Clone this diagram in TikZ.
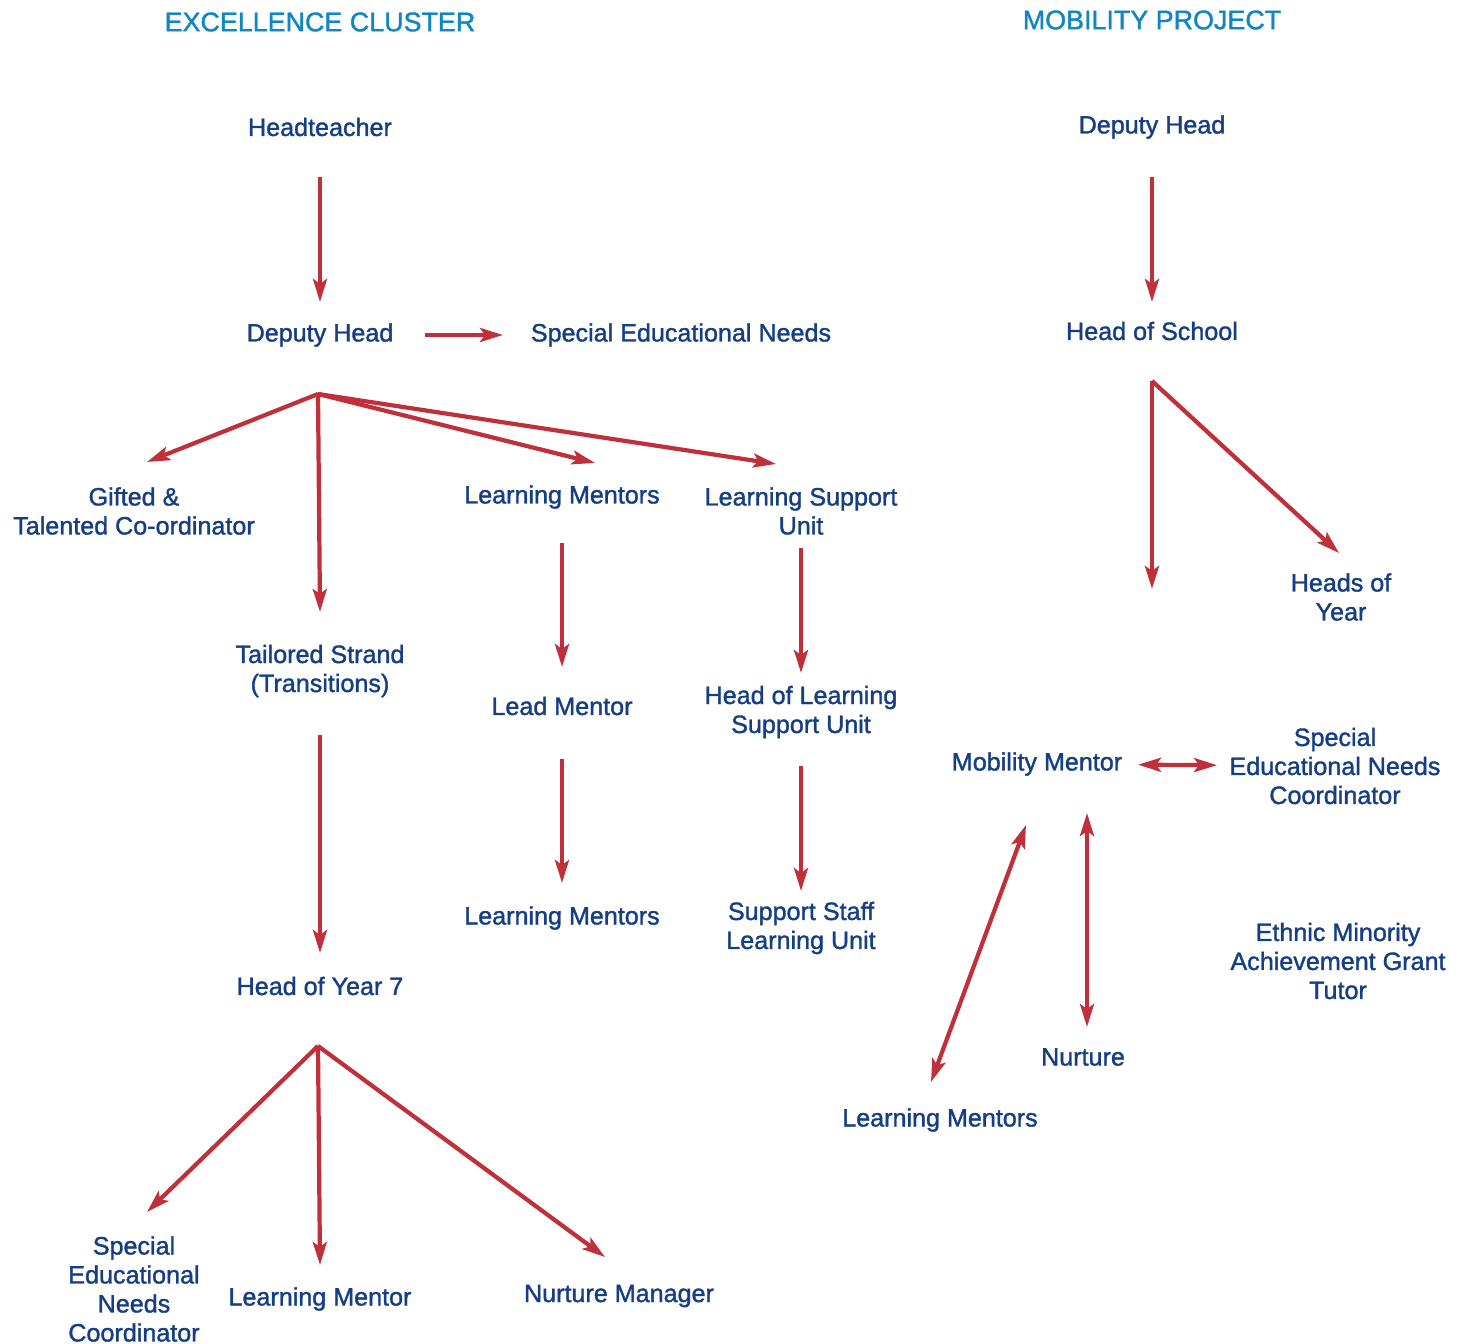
\documentclass[tikz,border=0pt]{standalone}
\usepackage{fontspec}
\setmainfont{Liberation Sans}
\font\rolefont="Liberation Sans:embolden=1.4" at 14.3pt
\font\titlefont="Liberation Sans:embolden=1.4" at 15.3pt
\usetikzlibrary{arrows.meta,positioning}
\definecolor{titleblue}{RGB}{18,134,194}
\definecolor{staff}{RGB}{22,62,132}
\definecolor{linkred}{RGB}{192,48,58}
\tikzset{
  role/.style={text=staff, align=center, inner sep=0pt,
               font={\rolefont\baselineskip=16.5pt\relax}},
  clustertitle/.style={text=titleblue, inner sep=0pt,
               font=\titlefont},
  link/.style={draw=linkred, line width=2.4pt,
               -{Stealth[length=0.46cm, width=0.28cm, inset=0.1cm]}},
  twoway/.style={link, {Stealth[length=0.46cm, width=0.28cm, inset=0.1cm]}-{Stealth[length=0.46cm, width=0.28cm, inset=0.1cm]}},
}

\begin{document}
\begin{tikzpicture}[x=0.02cm, y=-0.02cm]
  \useasboundingbox (0,0) rectangle (1467,1344);

  % headings
  \node[clustertitle] (exc) at (320,22) {EXCELLENCE CLUSTER};
  \node[clustertitle] (mob) at (1152,20) {MOBILITY PROJECT};

  % excellence cluster
  \node[role] (ht)    at (320,127)  {Headteacher};
  \node[role] (dh)    at (320,335)  {Deputy Head};
  \node[role] (sen)   at (681,335)  {Special Educational Needs};
  \node[role] (gt)    at (134,511)  {Gifted \&\\Talented Co-ordinator};
  \node[role] (lm)    at (562,497)  {Learning Mentors};
  \node[role] (lsu)   at (801,511)  {Learning Support\\Unit};
  \node[role] (ts)    at (320,671)  {Tailored Strand\\(Transitions)};
  \node[role] (lead)  at (562,706)  {Lead Mentor};
  \node[role] (hlsu)  at (801,712)  {Head of Learning\\Support Unit};
  \node[role] (lmb)   at (562,918)  {Learning Mentors};
  \node[role] (ssl)   at (801,928)  {Support Staff\\Learning Unit};
  \node[role] (hy)    at (320,986)  {Head of Year 7};
  \node[role] (senco) at (134,1289) {Special\\Educational\\Needs\\Coordinator};
  \node[role] (lmr)   at (320,1299) {Learning Mentor};
  \node[role] (nm)    at (619,1296) {Nurture Manager};

  % mobility project
  \node[role] (mdh)    at (1152,127)  {Deputy Head};
  \node[role] (hos)    at (1152,331)  {Head of School};
  \node[role] (hoy)    at (1341,597)  {Heads of\\Year};
  \node[role] (mm)     at (1037,764)  {Mobility Mentor};
  \node[role] (msenco) at (1335,766)  {Special\\Educational Needs\\Coordinator};
  \node[role] (emag)   at (1338,961)  {Ethnic Minority\\Achievement Grant\\Tutor};
  \node[role] (nur)    at (1083,1057) {Nurture};
  \node[role] (mlm)    at (940,1120)  {Learning Mentors};

  % straight lines of report
  \draw[link, shorten <=1cm,    shorten >=0.66cm] (ht.center)   -- (dh.center);
  \draw[link, shorten <=2.1cm,  shorten >=3.56cm] (dh.center)   -- (sen.center);
  \draw[link, shorten <=0.92cm, shorten >=0.78cm] (lm.center)   -- (lead.center);
  \draw[link, shorten <=1.06cm, shorten >=0.7cm]  (lead.center) -- (lmb.center);
  \draw[link, shorten <=0.74cm, shorten >=0.78cm] (lsu.center)  -- (hlsu.center);
  \draw[link, shorten <=1.08cm, shorten >=0.74cm] (hlsu.center) -- (ssl.center);
  \draw[link, shorten <=1.28cm, shorten >=0.66cm] (ts.center)   -- (hy.center);
  \draw[link, shorten <=1cm,    shorten >=0.58cm] (mdh.center)  -- (hos.center);
  \draw[twoway, shorten <=2.02cm, shorten >=2.36cm] (mm.center) -- (msenco.center);

  % fan out from deputy head
  \coordinate (dhfork) at (318,394);
  \coordinate (gtin)   at (147,462);
  \coordinate (tsin)   at (320,612);
  \coordinate (lmin)   at (595,463);
  \coordinate (lsuin)  at (776,464);
  \draw[link] (dhfork) -- (gtin);
  \draw[link] (dhfork) -- (tsin);
  \draw[link] (dhfork) -- (lmin);
  \draw[link] (dhfork) -- (lsuin);

  % fan out from head of year 7
  \coordinate (hyfork) at (318,1046);
  \coordinate (sencoin) at (147,1212);
  \coordinate (lmrin)  at (320,1265);
  \coordinate (nmin)   at (605,1257);
  \draw[link] (hyfork) -- (sencoin);
  \draw[link] (hyfork) -- (lmrin);
  \draw[link] (hyfork) -- (nmin);

  % fan out from head of school
  \coordinate (hosfork) at (1152,381);
  \coordinate (mmin)    at (1152,589);
  \coordinate (hoyin)   at (1339,553);
  \draw[link] (hosfork) -- (mmin);
  \draw[link] (hosfork) -- (hoyin);

  % mentor links
  \coordinate (mmnur) at (1087,813);
  \coordinate (nurmm) at (1087,1027);
  \coordinate (mmlm)  at (1026,825);
  \coordinate (lmmm)  at (931,1082);
  \draw[twoway] (mmnur) -- (nurmm);
  \draw[twoway] (mmlm) -- (lmmm);
\end{tikzpicture}
\end{document}
